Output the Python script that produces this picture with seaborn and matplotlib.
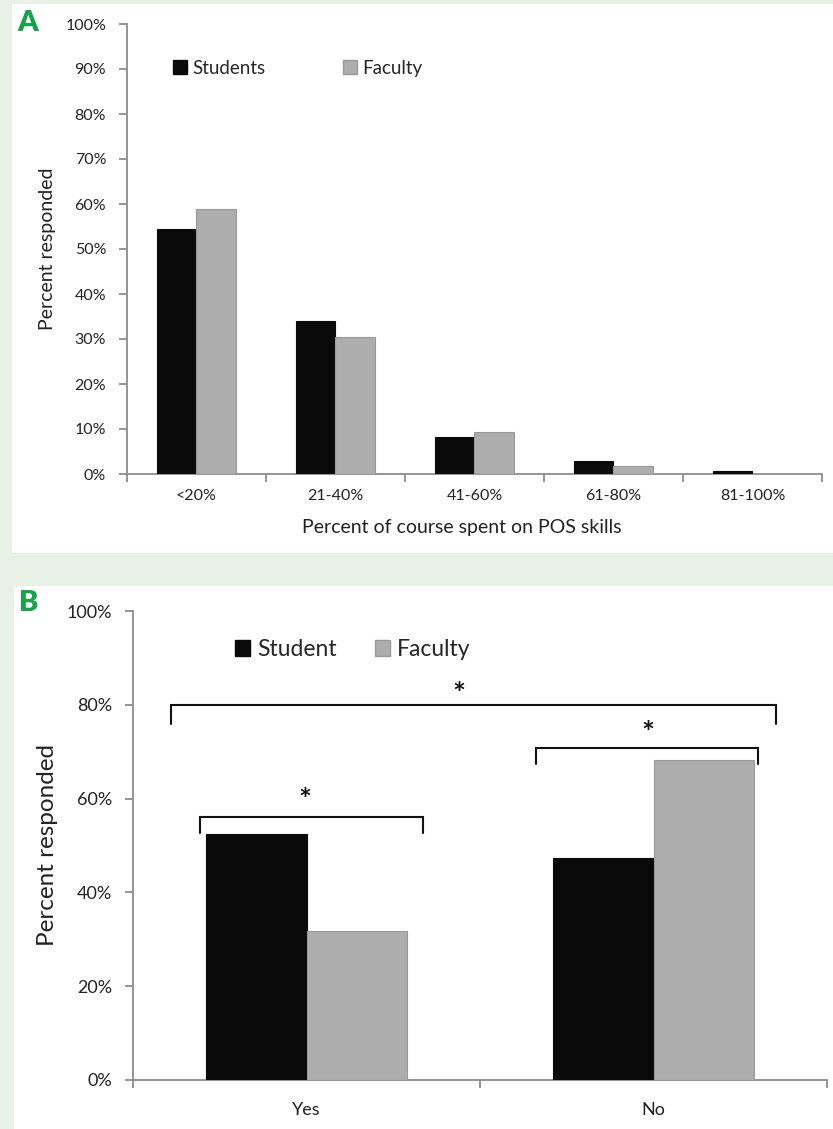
import pandas as pd
import seaborn as sns
import matplotlib.pyplot as plt
from matplotlib.patches import Rectangle, Patch

# panel A data
cats_a = ['<20%', '21-40%', '41-60%', '61-80%', '81-100%']
students_a = [54.5, 34.0, 8.3, 2.8, 0.7]
faculty_a = [59.0, 30.5, 9.3, 1.8, 0.0]

# panel B data
cats_b = ['Yes', 'No']
student_b = [52.4, 47.4]
faculty_b = [31.8, 68.3]

sns.set_style('white')
plt.rcParams['font.family'] = ['Lato', 'DejaVu Sans']

W, H = 833, 1129
fig = plt.figure(figsize=(W / 100, H / 100), dpi=100, facecolor='#e7f1e5')

def px_rect(x0, y0, x1, y1):
    return [x0 / W, 1 - y1 / H, (x1 - x0) / W, (y1 - y0) / H]

# white panel backgrounds
for x0, y0, x1, y1 in [(12, 4, 833, 553), (14, 586, 833, 1129)]:
    r = px_rect(x0, y0, x1, y1)
    fig.patches.append(Rectangle((r[0], r[1]), r[2], r[3], transform=fig.transFigure,
                                 facecolor='white', edgecolor='none', zorder=-10))

BLACK = '#0a0a0a'
GREY = '#adadad'
AXC = '#8c8c8c'

def style_axis(ax, n, ticks, tsize, xsize):
    for s in ['top', 'right']:
        ax.spines[s].set_visible(False)
    for s in ['left', 'bottom']:
        ax.spines[s].set_color(AXC)
        ax.spines[s].set_linewidth(1.3)
    ax.set_xlim(-0.5, n - 0.5)
    ax.set_ylim(0, 100)
    ax.set_yticks(ticks)
    ax.set_yticklabels(['{:.0f}%'.format(t) for t in ticks])
    ax.tick_params(axis='y', length=6, width=1.3, color=AXC, labelsize=tsize,
                   labelcolor='#222222', pad=9, left=True)
    ax.set_xticks(range(n))
    ax.set_xticks([i - 0.5 for i in range(n + 1)], minor=True)
    ax.tick_params(axis='x', which='major', length=0, labelsize=xsize,
                   labelcolor='#222222')
    ax.tick_params(axis='x', which='minor', length=6, width=1.3, color=AXC,
                   bottom=True)
    ax.set_facecolor('none')

# ---------- panel A ----------
df_a = pd.DataFrame({
    'cat': cats_a * 2,
    'val': students_a + faculty_a,
    'grp': ['Students'] * len(cats_a) + ['Faculty'] * len(cats_a),
})
ax1 = fig.add_axes(px_rect(127, 24, 822, 474))
sns.barplot(data=df_a, x='cat', y='val', hue='grp', order=cats_a,
            hue_order=['Students', 'Faculty'],
            palette={'Students': BLACK, 'Faculty': GREY},
            width=0.575, gap=0, legend=False, ax=ax1, zorder=3)
for p, ec in zip(ax1.patches, [BLACK] * 5 + ['#999999'] * 5):
    p.set_edgecolor(ec)
    p.set_linewidth(0.8)
style_axis(ax1, len(cats_a), range(0, 101, 10), 11.5, 11.5)
ax1.tick_params(axis='x', which='major', pad=11)
ax1.set_xlabel('Percent of course spent on POS skills', fontsize=14, color='#222222',
               va='center')
ax1.xaxis.set_label_coords(0.482, -0.12)
ax1.set_ylabel('Percent responded', fontsize=14, color='#222222', va='center')
ax1.yaxis.set_label_coords(-0.114, 0.5)
ax1.legend(handles=[Patch(facecolor=BLACK, edgecolor=BLACK),
                    Patch(facecolor=GREY, edgecolor='#999999')],
           labels=['Students', 'Faculty'], ncol=2, frameon=False,
           loc='center left', bbox_to_anchor=(0.066, 0.902),
           fontsize=13.5, handlelength=0.75, handleheight=0.75,
           handletextpad=0.3, columnspacing=4.1, borderpad=0, borderaxespad=0)

# ---------- panel B ----------
df_b = pd.DataFrame({
    'cat': cats_b * 2,
    'val': student_b + faculty_b,
    'grp': ['Student'] * len(cats_b) + ['Faculty'] * len(cats_b),
})
ax2 = fig.add_axes(px_rect(133, 611, 827, 1080))
sns.barplot(data=df_b, x='cat', y='val', hue='grp', order=cats_b,
            hue_order=['Student', 'Faculty'],
            palette={'Student': BLACK, 'Faculty': GREY},
            width=0.577, gap=0, legend=False, ax=ax2, zorder=3)
for p, ec in zip(ax2.patches, [BLACK] * 2 + ['#999999'] * 2):
    p.set_edgecolor(ec)
    p.set_linewidth(0.8)
style_axis(ax2, len(cats_b), range(0, 101, 20), 13, 13)
ax2.tick_params(axis='x', which='major', pad=16)
ax2.set_xlabel('')
ax2.set_ylabel('Percent responded', fontsize=17.5, color='#222222', va='center')
ax2.yaxis.set_label_coords(-0.123, 0.5)
ax2.legend(handles=[Patch(facecolor=BLACK, edgecolor=BLACK),
                    Patch(facecolor=GREY, edgecolor='#999999')],
           labels=['Student', 'Faculty'], ncol=2, frameon=False,
           loc='center left', bbox_to_anchor=(0.147, 0.918),
           fontsize=16.5, handlelength=0.65, handleheight=0.65,
           handletextpad=0.3, columnspacing=1.7, borderpad=0, borderaxespad=0)

# significance brackets: (x left, x right, y top, y leg bottom, star x, star y)
brackets = [(-0.5 + 38 / 347, 1.5 - 51 / 347, 80.0, 76.0, 0.44, 82.0),
            (-0.306, 0.336, 56.0, 52.6, -0.006, 59.5),
            (0.66, 1.30, 70.8, 67.4, 0.985, 73.7)]
for xl, xr, yt, yb, sx, sy in brackets:
    ax2.plot([xl, xl, xr, xr], [yb, yt, yt, yb], color='#111111', lw=1.5,
             solid_joinstyle='miter', zorder=4, clip_on=False)
    ax2.text(sx, sy, '*', ha='center', va='center', fontsize=22, fontweight='bold',
             color='#111111')

# panel letters
fig.text(17 / W, 1 - 23 / H, 'A', fontsize=21, fontweight='heavy', color='#16a34a',
         va='center', ha='left')
fig.text(19 / W, 1 - 603 / H, 'B', fontsize=21, fontweight='heavy', color='#16a34a',
         va='center', ha='left')

fig.savefig('out.png', dpi=100, facecolor=fig.get_facecolor())
